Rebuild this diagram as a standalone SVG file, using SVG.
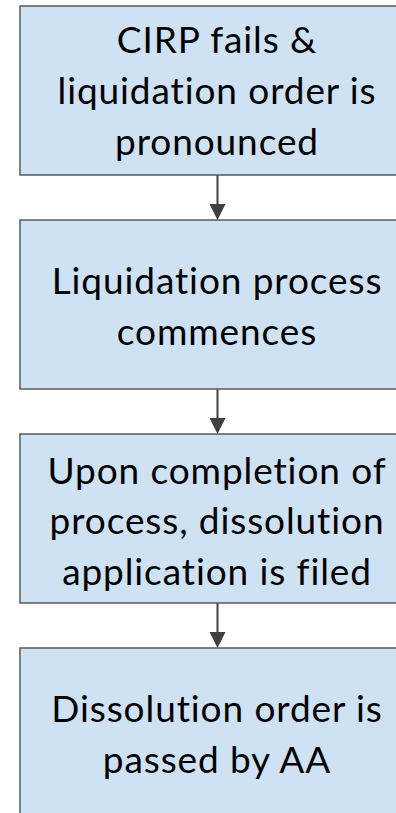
<svg xmlns="http://www.w3.org/2000/svg" width="396" height="813" viewBox="0 0 396 813">
<defs>
<style>
.box{fill:#cfe2f3;stroke:#595959;stroke-width:1.5}
.t{font-family:Lato,"Open Sans","DejaVu Sans",sans-serif;font-size:37px;letter-spacing:0.9px;font-variant-ligatures:none;fill:#000;text-anchor:middle}
.c{stroke:#404040;stroke-width:2;fill:none}
.ah{fill:#404040}
</style>
</defs>
<rect width="396" height="813" fill="#fff"/>
<g id="connectors">
<line class="c" x1="217.5" y1="175" x2="217.5" y2="206"/>
<polygon class="ah" points="209.5,204 225.5,204 217.5,220"/>
<line class="c" x1="217.5" y1="389" x2="217.5" y2="420"/>
<polygon class="ah" points="209.5,418 225.5,418 217.5,434"/>
<line class="c" x1="217.5" y1="603" x2="217.5" y2="634"/>
<polygon class="ah" points="209.5,632 225.5,632 217.5,648"/>
</g>
<g id="node1">
<rect class="box" x="20" y="6" width="420" height="169"/>
<text class="t" x="217" y="53">CIRP fails &amp;</text>
<text class="t" x="217" y="104">liquidation order is</text>
<text class="t" x="217" y="155">pronounced</text>
</g>
<g id="node2">
<rect class="box" x="20" y="220" width="420" height="169"/>
<text class="t" x="217" y="294">Liquidation process</text>
<text class="t" x="217" y="345">commences</text>
</g>
<g id="node3">
<rect class="box" x="20" y="434" width="420" height="169"/>
<text class="t" x="217" y="484">Upon completion of</text>
<text class="t" x="217" y="534">process, dissolution</text>
<text class="t" x="217" y="585">application is filed</text>
</g>
<g id="node4">
<rect class="box" x="20" y="648" width="420" height="169"/>
<text class="t" x="217" y="722">Dissolution order is</text>
<text class="t" x="217" y="773">passed by AA</text>
</g>
</svg>
